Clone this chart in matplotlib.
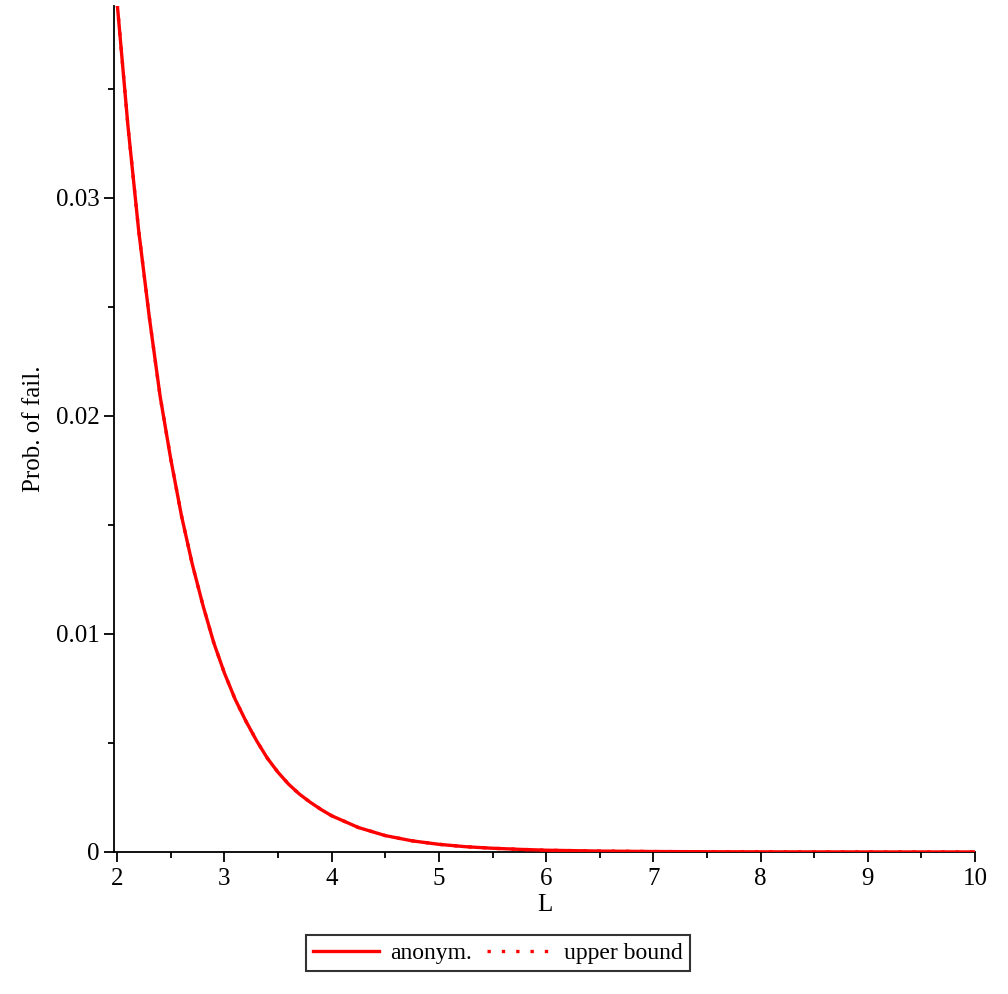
import matplotlib.pyplot as plt
from matplotlib.ticker import MultipleLocator, FixedLocator, FixedFormatter

# valores
L = [2.0, 2.1, 2.2, 2.3, 2.4, 2.5, 2.6, 2.7, 2.8, 2.9,
     3.0, 3.1, 3.2, 3.3, 3.4, 3.5, 3.6, 3.7, 3.8, 3.9,
     4.0, 4.25, 4.5, 4.75, 5.0, 5.25, 5.5, 5.75, 6.0,
     6.5, 7.0, 7.5, 8.0, 8.5, 9.0, 9.5, 10.0]
anonym = [0.0389, 0.0333, 0.0285, 0.0245, 0.0209, 0.0180, 0.0154, 0.0132, 0.0113, 0.0096,
          0.0082, 0.0070, 0.0060, 0.0051, 0.0043, 0.00365, 0.0031, 0.00265, 0.00228, 0.00195,
          0.00166, 0.00112, 0.00075, 0.00051, 0.00035, 0.00024, 0.00017, 0.00012, 0.00008,
          0.00004, 0.00002, 0.00001, 0.000005, 0.0000025, 0.0000012, 0.0000006, 0.0000003]
upper = [0.0389, 0.0333, 0.0285, 0.0245, 0.0209, 0.0180, 0.0154, 0.0132, 0.0113, 0.0096,
         0.0082, 0.0070, 0.0060, 0.0051, 0.0043, 0.00365, 0.0031, 0.00265, 0.00228, 0.00195,
         0.00166, 0.00112, 0.00075, 0.00051, 0.00035, 0.00024, 0.00017, 0.00012, 0.00008,
         0.00004, 0.00002, 0.00001, 0.000005, 0.0000025, 0.0000012, 0.0000006, 0.0000003]
yticks = [0, 0.01, 0.02, 0.03]
ylabels = ["0", "0.01", "0.02", "0.03"]

plt.rcParams["font.family"] = ["Liberation Serif", "DejaVu Serif"]
plt.rcParams["font.size"] = 18

fig = plt.figure(figsize=(10.08, 9.94), dpi=100)
ax = fig.add_axes([0.1131, 0.1429, 0.8542, 0.8511])

ax.plot(L, anonym, color="red", lw=2.4, label="anonym.", zorder=3)
ax.plot(L, upper, color="red", lw=2.4, linestyle=(0, (1, 3.3)),
        label="upper bound", zorder=4)

ax.set_xlim(1.97, 10)
ax.set_ylim(0, 0.0388)

for s in ["top", "right"]:
    ax.spines[s].set_visible(False)
for s in ["left", "bottom"]:
    ax.spines[s].set_linewidth(1.3)

ax.xaxis.set_major_locator(MultipleLocator(1))
ax.xaxis.set_minor_locator(MultipleLocator(0.5))
ax.yaxis.set_major_locator(FixedLocator(yticks))
ax.yaxis.set_major_formatter(FixedFormatter(ylabels))
ax.yaxis.set_minor_locator(MultipleLocator(0.005))
ax.tick_params(which="major", direction="out", length=7.5, width=1.3, labelsize=18)
ax.tick_params(which="minor", direction="out", length=4, width=1.3)
ax.tick_params(axis="x", pad=4)
ax.tick_params(axis="y", pad=3)

ax.set_xlabel("L", fontsize=18, labelpad=3)
ax.set_ylabel("Prob. of fail.", fontsize=18, labelpad=8)

leg = fig.legend(loc="center", bbox_to_anchor=(0.494, 0.041), ncol=2,
                 fontsize=17, fancybox=False, edgecolor="black",
                 handlelength=2.8, handletextpad=0.5, columnspacing=0.6,
                 borderpad=0.3, borderaxespad=0)
leg.get_frame().set_linewidth(1.5)

fig.savefig("out.png", dpi=100)
